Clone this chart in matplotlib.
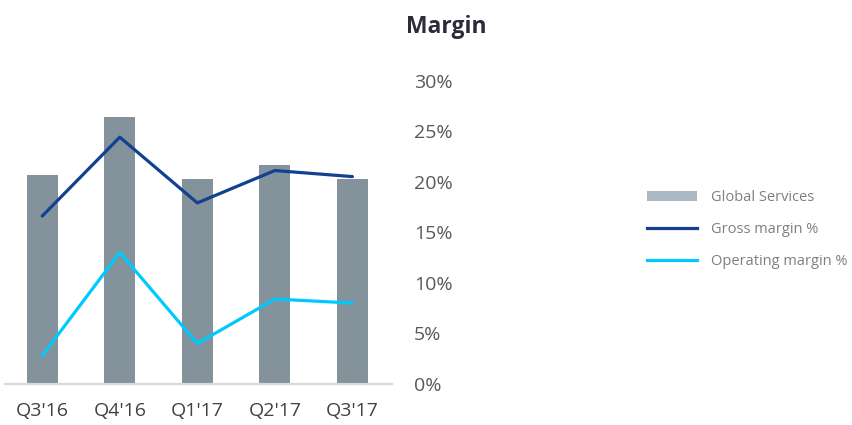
import matplotlib
matplotlib.use("Agg")
import matplotlib.pyplot as plt
from matplotlib.patches import Patch
from matplotlib.lines import Line2D
import numpy as np

quarters = ["Q3'16", "Q4'16", "Q1'17", "Q2'17", "Q3'17"]
# Global Services net sales (EUR m, estimated, unlabelled axis)
net_sales = [1552, 1983, 1522, 1626, 1522]
gross_margin = [16.6, 24.4, 17.9, 21.1, 20.5]
operating_margin = [2.8, 13.0, 4.0, 8.4, 8.0]
pct_ticks = [0, 5, 10, 15, 20, 25, 30]

plt.rcParams['font.family'] = ['Open Sans', 'DejaVu Sans']

fig = plt.figure(figsize=(8.52, 4.25), dpi=100)
ax = fig.add_axes([5 / 852, 41 / 425, 387 / 852, 303.5 / 425])
x = np.arange(len(quarters))

ax.bar(x, net_sales, width=0.4, color='#84929b', zorder=2)
ax.set_ylim(0, 2250)
ax.set_xlim(-0.48, 4.51)
ax.set_yticks([])
for s in ['top', 'right', 'left']:
    ax.spines[s].set_visible(False)
ax.spines['bottom'].set_color('#d9d9d9')
ax.spines['bottom'].set_linewidth(1.6)
ax.set_xticks(x)
ax.set_xticklabels(quarters, fontsize=14, color='#404040')
ax.tick_params(axis='x', length=0, pad=13)

ax2 = ax.twinx()
ax2.plot(x, gross_margin, color='#124191', lw=2.3, solid_capstyle='round', zorder=3)
ax2.plot(x, operating_margin, color='#00c9ff', lw=2.3, solid_capstyle='round', zorder=3)
ax2.set_ylim(0, 30)
ax2.set_yticks(pct_ticks)
ax2.set_yticklabels([f"{t}%" for t in pct_ticks], fontsize=14, color='#595959')
ax2.tick_params(axis='y', length=0, pad=16)
for s in ax2.spines.values():
    s.set_visible(False)

fig.text(406 / 852, 1 - 27 / 425, "Margin", fontsize=16.5, fontweight='bold',
         color='#2b2b3a', va='center', ha='left')

handles = [Patch(facecolor='#a9b8c2', edgecolor='none'),
           Line2D([0], [0], color='#124191', lw=2.3),
           Line2D([0], [0], color='#00c9ff', lw=2.3)]
labels = ["Global Services", "Gross margin %", "Operating margin %"]
leg = fig.legend(handles, labels, loc='upper left', bbox_to_anchor=(634 / 852, 1 - 177 / 425),
                 frameon=False, fontsize=10.5, handlelength=3.4, handleheight=0.6,
                 labelspacing=1.15, handletextpad=1.0, labelcolor='#7f7f7f')

fig.savefig("out.png", dpi=100)
